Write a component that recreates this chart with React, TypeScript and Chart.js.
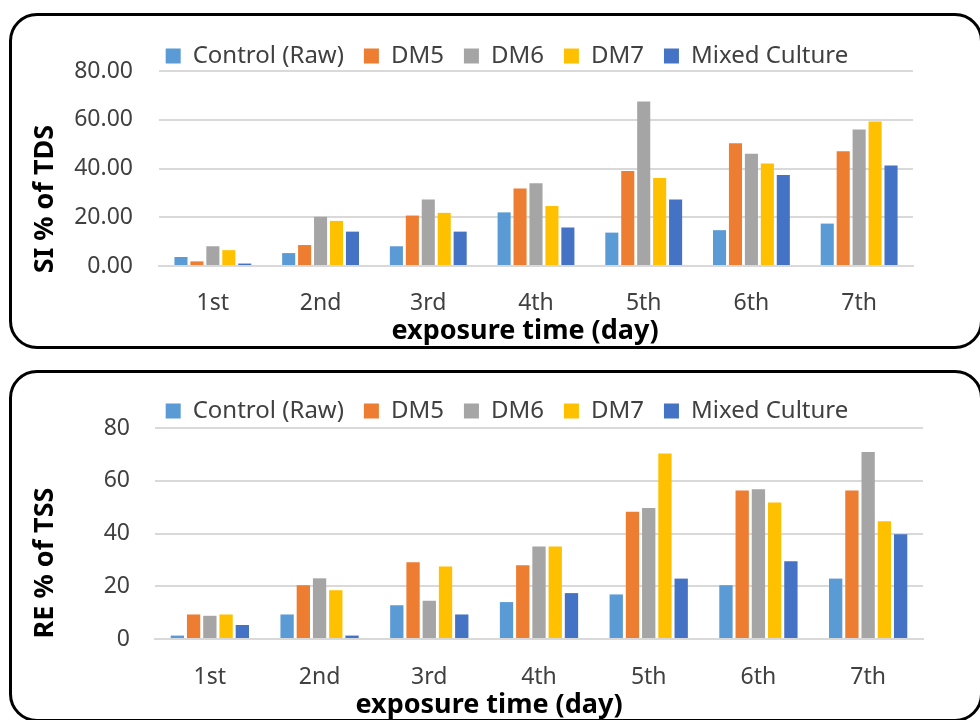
import React, { useEffect, useRef } from "react";
import { Chart, registerables } from "chart.js";

Chart.register(...registerables);

const categories = ["1st", "2nd", "3rd", "4th", "5th", "6th", "7th"];
const seriesNames = ["Control (Raw)", "DM5", "DM6", "DM7", "Mixed Culture"];
const seriesColors = ["#5B9BD5", "#ED7D31", "#A5A5A5", "#FFC000", "#4472C4"];

// SI % of TDS
const siControl = [3.7, 5.3, 8.1, 22.0, 13.7, 14.7, 17.4];
const siDM5 = [1.9, 8.6, 20.7, 31.8, 39.0, 50.4, 47.1];
const siDM6 = [8.1, 20.2, 27.3, 34.0, 67.5, 46.1, 56.0];
const siDM7 = [6.5, 18.5, 21.8, 24.6, 36.1, 42.1, 59.3];
const siMixed = [1.0, 14.1, 14.1, 15.8, 27.3, 37.3, 41.2];

// RE % of TSS
const reControl = [1.3, 9.3, 12.8, 14.0, 16.9, 20.4, 22.9];
const reDM5 = [9.3, 20.4, 29.1, 28.0, 48.2, 56.3, 56.3];
const reDM6 = [8.8, 23.0, 14.5, 35.1, 49.7, 56.8, 70.9];
const reDM7 = [9.3, 18.5, 27.5, 35.1, 70.3, 51.8, 44.6];
const reMixed = [5.3, 1.3, 9.3, 17.4, 22.9, 29.5, 39.7];

const yMin = 0;
const yMax = 80;
const yStep = 20;

const FONT = '"Noto Sans", "Open Sans", sans-serif';
const TEXT = "#404040";

const tweakPlugin = {
  id: "tweaks",
  beforeLayout(chart: any, _a: any, opts: any) {
    const lg = chart.legend;
    if (lg && !lg._patched) {
      const orig = lg.fit;
      lg.fit = function () {
        orig.call(this);
        this.height = opts.legendHeight;
      };
      lg._patched = true;
    }
  },
  afterLayout(chart: any, _a: any, opts: any) {
    const lg = chart.legend;
    if (lg) {
      const c = (lg.left + lg.right) / 2;
      const d = opts.legendCenterX - c;
      lg.left += d;
      lg.right += d;
    }
  },
  afterDraw(chart: any, _a: any, opts: any) {
    const ctx = chart.ctx;
    ctx.save();
    ctx.fillStyle = "#000000";
    ctx.font = `bold ${opts.titleSize}px ${FONT}`;
    ctx.textAlign = "center";
    ctx.textBaseline = "middle";
    ctx.fillText(opts.xTitle, opts.xTitleX, opts.xTitleY);
    ctx.translate(opts.yTitleX, opts.yTitleY);
    ctx.rotate(-Math.PI / 2);
    ctx.fillText(opts.yTitle, 0, 0);
    ctx.restore();
  },
};

type Spec = {
  series: number[][];
  decimals: number;
  padTop: number;
  padRight: number;
  legendHeight: number;
  yWidth: number;
  yTickPad: number;
  xHeight: number;
  xTickPad: number;
  xTitle: string;
  yTitle: string;
  xTitleX: number;
  xTitleY: number;
  yTitleX: number;
  yTitleY: number;
};

function ChartBox({ spec, top }: { spec: Spec; top: number }) {
  const ref = useRef<HTMLCanvasElement | null>(null);
  useEffect(() => {
    if (!ref.current) return;
    const chart = new Chart(ref.current, {
      type: "bar",
      data: {
        labels: categories,
        datasets: seriesNames.map((name, i) => ({
          label: name,
          data: spec.series[i],
          backgroundColor: seriesColors[i],
          borderWidth: 0,
          categoryPercentage: 0.74,
          barPercentage: 0.82,
        })),
      },
      options: {
        responsive: false,
        animation: false,
        devicePixelRatio: 1,
        layout: {
          padding: { left: 0, right: spec.padRight, top: spec.padTop, bottom: 0 },
        },
        plugins: {
          tooltip: { enabled: false },
          legend: {
            position: "top",
            labels: {
              boxWidth: 15,
              boxHeight: 15,
              padding: 20,
              color: TEXT,
              font: { family: FONT, size: 24 },
            },
          },
          tweaks: {
            legendHeight: spec.legendHeight,
            legendCenterX: 507,
            titleSize: 27,
            xTitle: spec.xTitle,
            yTitle: spec.yTitle,
            xTitleX: spec.xTitleX,
            xTitleY: spec.xTitleY,
            yTitleX: spec.yTitleX,
            yTitleY: spec.yTitleY,
          },
        } as any,
        scales: {
          x: {
            grid: { display: false },
            border: { display: true, color: "#D9D9D9", width: 2 },
            ticks: {
              color: TEXT,
              font: { family: FONT, size: 23 },
              padding: spec.xTickPad,
            },
            afterFit: (s: any) => {
              s.height = spec.xHeight;
            },
          },
          y: {
            min: yMin,
            max: yMax,
            grid: { color: "#D9D9D9", lineWidth: 2, drawTicks: false },
            border: { display: false },
            ticks: {
              stepSize: yStep,
              color: TEXT,
              font: { family: FONT, size: 23 },
              padding: spec.yTickPad,
              callback: (v: any) => Number(v).toFixed(spec.decimals),
            },
            afterFit: (s: any) => {
              s.width = spec.yWidth;
            },
          },
        },
      },
      plugins: [tweakPlugin as any],
    });
    return () => chart.destroy();
  }, []);
  return (
    <canvas
      ref={ref}
      width={980}
      height={360}
      style={{ position: "absolute", left: 0, top, width: 980, height: 360 }}
    />
  );
}

const topSpec: Spec = {
  series: [siControl, siDM5, siDM6, siDM7, siMixed],
  decimals: 2,
  padTop: 24,
  padRight: 67,
  legendHeight: 47,
  yWidth: 159,
  yTickPad: 26,
  xHeight: 94,
  xTickPad: 16,
  xTitle: "exposure time (day)",
  yTitle: "SI % of TDS",
  xTitleX: 525,
  xTitleY: 331,
  yTitleX: 45,
  yTitleY: 199,
};

const bottomSpec: Spec = {
  series: [reControl, reDM5, reDM6, reDM7, reMixed],
  decimals: 0,
  padTop: 19,
  padRight: 57,
  legendHeight: 49,
  yWidth: 155,
  yTickPad: 25,
  xHeight: 81,
  xTickPad: 17,
  xTitle: "exposure time (day)",
  yTitle: "RE % of TSS",
  xTitleX: 489,
  xTitleY: 345,
  yTitleX: 45,
  yTitleY: 203,
};

export default function App() {
  const box: React.CSSProperties = {
    position: "absolute",
    left: 9,
    width: 974,
    border: "3px solid #000",
    borderRadius: 28,
    boxSizing: "border-box",
    background: "#fff",
  };
  return (
    <div
      style={{
        position: "fixed",
        left: 0,
        top: 0,
        width: 980,
        height: 720,
        overflow: "hidden",
        background: "#fff",
      }}
    >
      <div style={{ ...box, top: 13, height: 336 }} />
      <div style={{ ...box, top: 370, height: 352 }} />
      <ChartBox spec={topSpec} top={0} />
      <ChartBox spec={bottomSpec} top={360} />
    </div>
  );
}
